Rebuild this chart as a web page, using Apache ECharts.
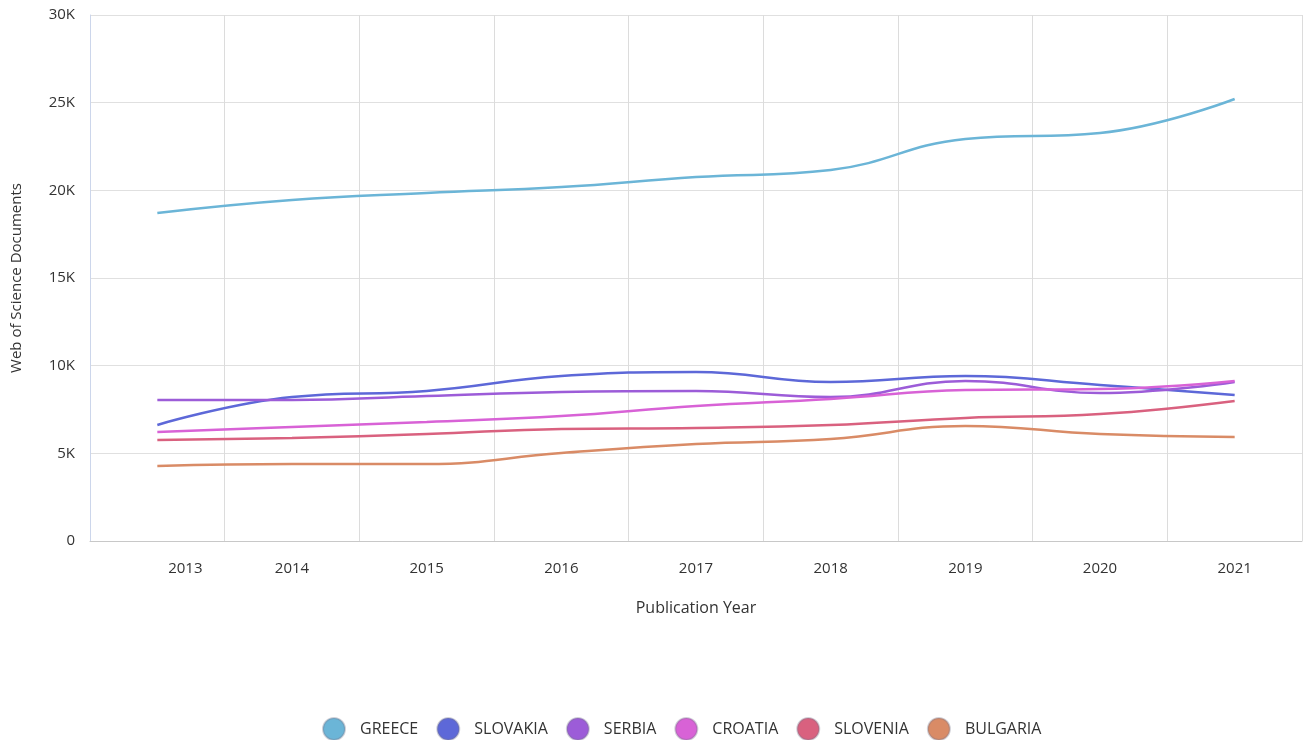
<!DOCTYPE html>
<html>
<head>
<meta charset="utf-8">
<script src="https://cdn.jsdelivr.net/npm/echarts@6/dist/echarts.min.js"></script>
<style>
html,body{margin:0;padding:0;background:#fff;}
#main{width:1304px;height:740px;}
</style>
</head>
<body>
<div id="main"></div>
<script>
const years = ['2013','2014','2015','2016','2017','2018','2019','2020','2021'];
const greece   = [18710, 19450, 19850, 20190, 20760, 21160, 22930, 23270, 25210];
const slovakia = [6620, 8210, 8560, 9410, 9640, 9070, 9410, 8900, 8330];
const serbia   = [8040, 8040, 8270, 8500, 8560, 8210, 9130, 8440, 9070];
const croatia  = [6220, 6500, 6790, 7130, 7700, 8100, 8610, 8670, 9130];
const slovenia = [5760, 5880, 6100, 6390, 6450, 6620, 7020, 7240, 7990];
const bulgaria = [4280, 4390, 4390, 5020, 5530, 5820, 6560, 6100, 5930];
const yTicks = ['0','5K','10K','15K','20K','25K','30K'];

const seriesDefs = [
  ['GREECE', greece, '#6bb5d7'],
  ['SLOVAKIA', slovakia, '#5d68d8'],
  ['SERBIA', serbia, '#9c5cd8'],
  ['CROATIA', croatia, '#d862d6'],
  ['SLOVENIA', slovenia, '#d9617f'],
  ['BULGARIA', bulgaria, '#d98b66']
];

const font = '"Open Sans", "Noto Sans", sans-serif';
const chart = echarts.init(document.getElementById('main'));
chart.setOption({
  animation: false,
  textStyle: {fontFamily: font},
  grid: {left: 90, right: 2, top: 15, bottom: 199, containLabel: false},
  legend: {
    top: 712,
    left: 317,
    icon: 'circle',
    itemWidth: 22,
    itemHeight: 22,
    itemGap: 18,
    textStyle: {fontSize: 16, color: '#333', fontFamily: font, padding: [0, 0, 0, 10]},
    data: seriesDefs.map(d => ({
      name: d[0],
      itemStyle: {color: d[2], borderColor: 'rgba(120,120,140,0.35)', borderWidth: 2}
    }))
  },
  xAxis: {
    type: 'category',
    data: years,
    boundaryGap: true,
    name: 'Publication Year',
    nameLocation: 'middle',
    nameGap: 59,
    nameTextStyle: {fontSize: 16, color: '#333', fontFamily: font},
    axisLine: {lineStyle: {color: '#c8c8c8', width: 1}},
    axisTick: {show: false},
    axisLabel: {
      fontSize: 15, color: '#333', margin: 20, fontFamily: font,
      formatter: v => v === '2013' ? '{s|' + v + '}' : v,
      rich: {s: {fontSize: 15, color: '#333', padding: [0, 0, 0, 56], fontFamily: font}}
    },
    splitLine: {show: true, lineStyle: {color: '#dcdcdc', width: 1}}
  },
  yAxis: {
    type: 'value',
    min: 0, max: 30000, interval: 5000,
    name: 'Web of Science Documents',
    nameLocation: 'middle',
    nameGap: 66,
    nameRotate: 90,
    nameTextStyle: {fontSize: 15, color: '#333', fontFamily: font},
    axisLine: {show: true, lineStyle: {color: '#ccd6eb', width: 1}},
    axisTick: {show: false},
    axisLabel: {
      fontSize: 15, color: '#333', margin: 15, fontFamily: font,
      formatter: v => yTicks[Math.round(v / 5000)]
    },
    splitLine: {lineStyle: {color: '#e0e0e0', width: 1}}
  },
  series: seriesDefs.map(d => ({
    name: d[0],
    type: 'line',
    data: d[1],
    smooth: 0.45,
    showSymbol: false,
    symbol: 'none',
    lineStyle: {width: 2.5, color: d[2]},
    itemStyle: {color: d[2]}
  }))
});
</script>
</body>
</html>
